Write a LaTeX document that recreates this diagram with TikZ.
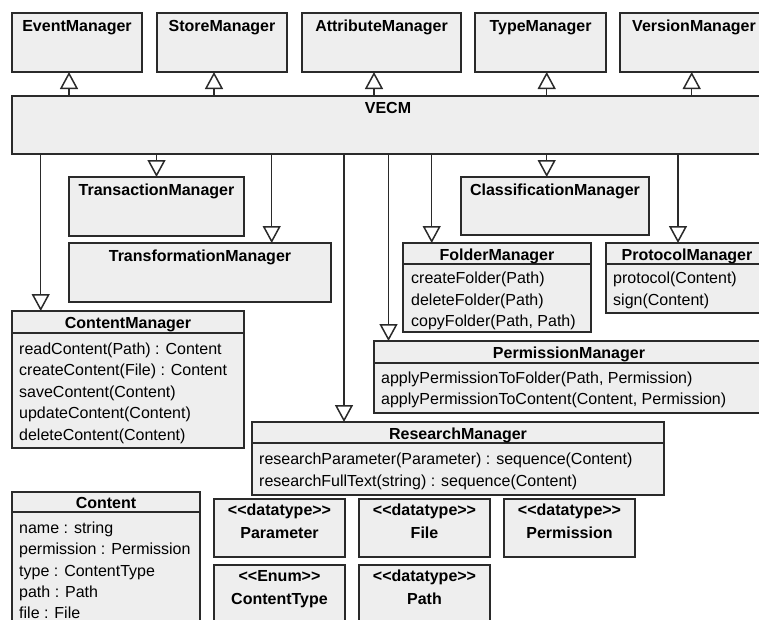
\documentclass[tikz,border=0pt]{standalone}
\usepackage{fontspec}
\setmainfont{Liberation Sans}
\usetikzlibrary{arrows.meta}
\definecolor{boxfill}{HTML}{EEEEEE}
\definecolor{linec}{HTML}{2A2A2A}
\tikzset{
  cls/.style={draw=linec, fill=boxfill, line width=1.5pt, anchor=north west, inner sep=0pt, outer sep=0pt},
  ttl/.style={font=\fontsize{16}{19}\selectfont\bfseries, anchor=base, inner sep=0pt},
  op/.style={anchor=base west, inner sep=0pt},
  sepl/.style={draw=linec, line width=1.5pt},
  gen/.style={draw=linec, line width=1.5pt, -{Triangle[open, length=17pt, width=18pt]}}
}
\newcommand{\stereo}[1]{<\kern0pt<#1>\kern0pt>}

\begin{document}
\begin{tikzpicture}[x=1pt, y=-1pt, font=\fontsize{16}{19}\selectfont]
        \useasboundingbox (0,0) rectangle (759,619);
        \clip (0,0) rectangle (759,619);
        % Top row of managers.
            \node[cls, minimum width=130, minimum height=59] (event) at (12,13) {};
            \node[cls, minimum width=130, minimum height=59] (store) at (157,13) {};
            \node[cls, minimum width=159, minimum height=59] (attr) at (302,13) {};
            \node[cls, minimum width=131, minimum height=59] (type) at (475,13) {};
            \node[cls, minimum width=148, minimum height=59] (version) at (620,13) {};
            \node[ttl] (eventT) at ([yshift=-18.5]event.north) {EventManager};
            \node[ttl] (storeT) at ([yshift=-18.5]store.north) {StoreManager};
            \node[ttl] (attrT) at ([yshift=-18.5]attr.north) {AttributeManager};
            \node[ttl] (typeT) at ([yshift=-18.5]type.north) {TypeManager};
            \node[ttl] (versionT) at ([yshift=-18.5]version.north) {VersionManager};
        % The VECM facade.
            \node[cls, minimum width=752, minimum height=58] (vecm) at (12,96) {};
            \node[ttl] (vecmT) at ([yshift=-17.5]vecm.north) {VECM};
        % Plain boxes below VECM.
            \node[cls, minimum width=175, minimum height=59] (trans) at (69,177) {};
            \node[cls, minimum width=262, minimum height=59] (transf) at (69,243) {};
            \node[cls, minimum width=188, minimum height=58] (classif) at (461,177) {};
            \node[ttl] (transT) at ([yshift=-18.5]trans.north) {TransactionManager};
            \node[ttl] (transfT) at ([yshift=-18.5]transf.north) {TransformationManager};
            \node[ttl] (classifT) at ([yshift=-18.5]classif.north) {ClassificationManager};
        % FolderManager.
            \node[cls, minimum width=188, minimum height=89] (folder) at (403,243) {};
            \draw[sepl] ([yshift=-21]folder.north west) -- ([yshift=-21]folder.north east);
            \node[ttl] (folderT) at ([yshift=-17]folder.north) {FolderManager};
            \node[op] (folder1) at ([xshift=8, yshift=-40.5]folder.north west) {createFolder(Path)};
            \node[op] (folder2) at ([xshift=8, yshift=-62]folder.north west) {deleteFolder(Path)};
            \node[op] (folder3) at ([xshift=8, yshift=-83.5]folder.north west) {copyFolder(Path, Path)};
        % ProtocolManager.
            \node[cls, minimum width=162, minimum height=70] (proto) at (606,243) {};
            \draw[sepl] ([yshift=-21]proto.north west) -- ([yshift=-21]proto.north east);
            \node[ttl] (protoT) at ([yshift=-17]proto.north) {ProtocolManager};
            \node[op] (proto1) at ([xshift=7, yshift=-40.5]proto.north west) {protocol(Content)};
            \node[op] (proto2) at ([xshift=7, yshift=-62]proto.north west) {sign(Content)};
        % ContentManager.
            \node[cls, minimum width=232, minimum height=137] (cm) at (12,311) {};
            \draw[sepl] ([yshift=-22]cm.north west) -- ([yshift=-22]cm.north east);
            \node[ttl] (cmT) at ([yshift=-17.5]cm.north) {ContentManager};
            \node[op] (cm1) at ([xshift=7, yshift=-43]cm.north west) {readContent(Path) : Content};
            \node[op] (cm2) at ([xshift=7, yshift=-64.5]cm.north west) {createContent(File) : Content};
            \node[op] (cm3) at ([xshift=7, yshift=-86]cm.north west) {saveContent(Content)};
            \node[op] (cm4) at ([xshift=7, yshift=-107.5]cm.north west) {updateContent(Content)};
            \node[op] (cm5) at ([xshift=7, yshift=-129]cm.north west) {deleteContent(Content)};
        % PermissionManager.
            \node[cls, minimum width=390, minimum height=72] (perm) at (374,341) {};
            \draw[sepl] ([yshift=-22]perm.north west) -- ([yshift=-22]perm.north east);
            \node[ttl] (permT) at ([yshift=-17]perm.north) {PermissionManager};
            \node[op] (perm1) at ([xshift=7, yshift=-42]perm.north west) {applyPermissionToFolder(Path, Permission)};
            \node[op] (perm2) at ([xshift=7, yshift=-63.5]perm.north west) {applyPermissionToContent(Content, Permission)};
        % ResearchManager.
            \node[cls, minimum width=412, minimum height=73] (research) at (252,422) {};
            \draw[sepl] ([yshift=-21]research.north west) -- ([yshift=-21]research.north east);
            \node[ttl] (researchT) at ([yshift=-17]research.north) {ResearchManager};
            \node[op] (research1) at ([xshift=7, yshift=-42.5]research.north west) {researchParameter(Parameter) : sequence(Content)};
            \node[op] (research2) at ([xshift=7, yshift=-64]research.north west) {researchFullText(string) : sequence(Content)};
        % Content class.
            \node[cls, minimum width=188, minimum height=160] (content) at (12,492) {};
            \draw[sepl] ([yshift=-20]content.north west) -- ([yshift=-20]content.north east);
            \node[ttl] (contentT) at ([yshift=-16.5]content.north) {Content};
            \node[op] (content1) at ([xshift=7, yshift=-41]content.north west) {name : string};
            \node[op] (content2) at ([xshift=7, yshift=-62.5]content.north west) {permission : Permission};
            \node[op] (content3) at ([xshift=7, yshift=-84]content.north west) {type : ContentType};
            \node[op] (content4) at ([xshift=7, yshift=-105.5]content.north west) {path : Path};
            \node[op] (content5) at ([xshift=7, yshift=-126]content.north west) {file : File};
        % Data types.
            \node[cls, minimum width=131, minimum height=58] (param) at (214,499) {};
            \node[cls, minimum width=131, minimum height=58] (file) at (359,499) {};
            \node[cls, minimum width=131, minimum height=58] (permtype) at (504,499) {};
            \node[cls, minimum width=131, minimum height=58] (ctype) at (214,565) {};
            \node[cls, minimum width=131, minimum height=58] (path) at (359,565) {};
            \node[ttl] (paramS) at ([yshift=-16.5]param.north) {\stereo{datatype}};
            \node[ttl] (paramT) at ([yshift=-39]param.north) {Parameter};
            \node[ttl] (fileS) at ([yshift=-16.5]file.north) {\stereo{datatype}};
            \node[ttl] (fileT) at ([yshift=-39]file.north) {File};
            \node[ttl] (permtypeS) at ([yshift=-16.5]permtype.north) {\stereo{datatype}};
            \node[ttl] (permtypeT) at ([yshift=-39]permtype.north) {Permission};
            \node[ttl] (ctypeS) at ([yshift=-16.5]ctype.north) {\stereo{Enum}};
            \node[ttl] (ctypeT) at ([yshift=-39]ctype.north) {ContentType};
            \node[ttl] (pathS) at ([yshift=-16.5]path.north) {\stereo{datatype}};
            \node[ttl] (pathT) at ([yshift=-39]path.north) {Path};
        % Generalisations up from VECM.
            \draw[gen] ([xshift=57]event.south west |- vecm.north) -- ([xshift=57]event.south west);
            \draw[gen] ([xshift=57]store.south west |- vecm.north) -- ([xshift=57]store.south west);
            \draw[gen] ([xshift=72]attr.south west |- vecm.north) -- ([xshift=72]attr.south west);
            \draw[gen] ([xshift=71.7]type.south west |- vecm.north) -- ([xshift=71.7]type.south west);
            \draw[gen] ([xshift=71.7]version.south west |- vecm.north) -- ([xshift=71.7]version.south west);
        % Generalisations down from VECM.
            \draw[gen] ([xshift=28.7]cm.north west |- vecm.south) -- ([xshift=28.7]cm.north west);
            \draw[gen] (trans.north |- vecm.south) -- (trans.north);
            \draw[gen] ([xshift=202.7]transf.north west |- vecm.south) -- ([xshift=202.7]transf.north west);
            \draw[gen] ([xshift=92]research.north west |- vecm.south) -- ([xshift=92]research.north west);
            \draw[gen] ([xshift=14.5]perm.north west |- vecm.south) -- ([xshift=14.5]perm.north west);
            \draw[gen] ([xshift=28.7]folder.north west |- vecm.south) -- ([xshift=28.7]folder.north west);
            \draw[gen] ([xshift=-8.3]classif.north |- vecm.south) -- ([xshift=-8.3]classif.north);
            \draw[gen] ([xshift=72]proto.north west |- vecm.south) -- ([xshift=72]proto.north west);
    \end{tikzpicture}
\end{document}
